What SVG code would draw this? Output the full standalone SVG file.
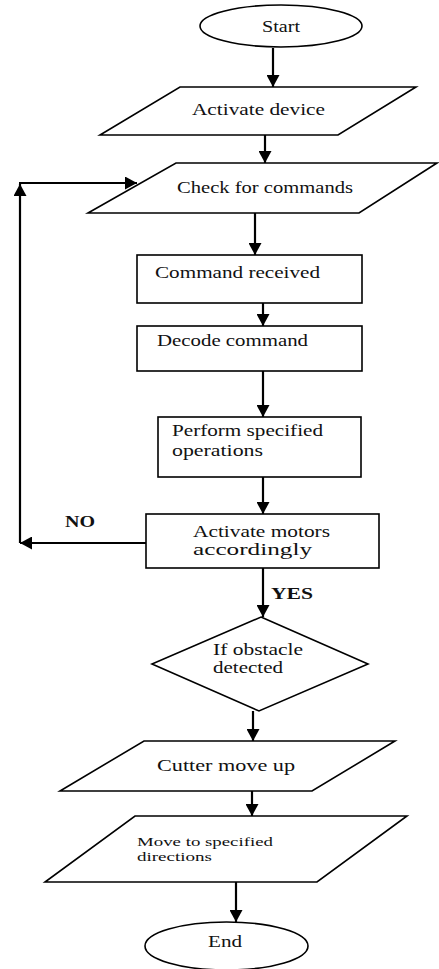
<svg xmlns="http://www.w3.org/2000/svg" width="439" height="969" viewBox="0 0 439 969">
<defs>
<style>
.shape{fill:#fff;stroke:#000;stroke-width:1.6}
.conn{fill:none;stroke:#000;stroke-width:2.2}
text{font-family:"Liberation Serif","Times New Roman",serif;font-size:16px;fill:#111}
.b{font-weight:bold}
.s{font-size:12px}
</style>
<marker id="ah" markerUnits="userSpaceOnUse" markerWidth="13" markerHeight="13" refX="12" refY="6.5" orient="auto">
<path d="M0,0 L12,6.5 L0,13 z" fill="#000"/>
</marker>
</defs>
<rect width="439" height="969" fill="#fff"/>
<g id="connectors">
<line class="conn" x1="273" y1="48" x2="273" y2="87" marker-end="url(#ah)"/>
<line class="conn" x1="265" y1="135" x2="265" y2="163" marker-end="url(#ah)"/>
<line class="conn" x1="255" y1="213" x2="255" y2="255" marker-end="url(#ah)"/>
<line class="conn" x1="263" y1="303" x2="263" y2="326" marker-end="url(#ah)"/>
<line class="conn" x1="263" y1="371" x2="263" y2="417" marker-end="url(#ah)"/>
<line class="conn" x1="263" y1="477" x2="263" y2="514" marker-end="url(#ah)"/>
<line class="conn" x1="263" y1="568" x2="263" y2="617" marker-end="url(#ah)"/>
<line class="conn" x1="253" y1="711" x2="253" y2="741" marker-end="url(#ah)"/>
<line class="conn" x1="252" y1="791" x2="252" y2="816" marker-end="url(#ah)"/>
<line class="conn" x1="236" y1="882" x2="236" y2="922" marker-end="url(#ah)"/>
<line class="conn" x1="146" y1="543" x2="20" y2="543" marker-end="url(#ah)"/>
<line class="conn" x1="20" y1="543" x2="20" y2="184" marker-end="url(#ah)"/>
<line class="conn" x1="19" y1="183" x2="137" y2="183" marker-end="url(#ah)"/>
<text class="b" x="65" y="527" textLength="30" lengthAdjust="spacingAndGlyphs">NO</text>
<text class="b" x="271" y="599" textLength="42" lengthAdjust="spacingAndGlyphs">YES</text>
</g>
<g id="start">
<ellipse class="shape" cx="281" cy="26" rx="81" ry="21"/>
<text x="262" y="32" textLength="38" lengthAdjust="spacingAndGlyphs">Start</text>
</g>
<g id="activate-device">
<polygon class="shape" points="180,87 416,87 338,135 100,135"/>
<text x="192" y="115" textLength="133" lengthAdjust="spacingAndGlyphs">Activate device</text>
</g>
<g id="check-commands">
<polygon class="shape" points="176,163 437,163 359,213 88,213"/>
<text x="177" y="193" textLength="176" lengthAdjust="spacingAndGlyphs">Check for commands</text>
</g>
<g id="command-received">
<rect class="shape" x="137" y="255" width="225" height="48"/>
<text x="155" y="278" textLength="165" lengthAdjust="spacingAndGlyphs">Command received</text>
</g>
<g id="decode-command">
<rect class="shape" x="137" y="326" width="225" height="45"/>
<text x="157" y="346" textLength="151" lengthAdjust="spacingAndGlyphs">Decode command</text>
</g>
<g id="perform-operations">
<rect class="shape" x="158" y="417" width="203" height="60"/>
<text x="172" y="436" textLength="151" lengthAdjust="spacingAndGlyphs">Perform specified</text>
<text x="172" y="456" textLength="91" lengthAdjust="spacingAndGlyphs">operations</text>
</g>
<g id="activate-motors">
<rect class="shape" x="146" y="514" width="233" height="54"/>
<text x="193" y="537" textLength="137" lengthAdjust="spacingAndGlyphs">Activate motors</text>
<text x="193" y="555" textLength="119" lengthAdjust="spacingAndGlyphs">accordingly</text>
</g>
<g id="obstacle-decision">
<polygon class="shape" points="261,617 368,664 259,711 152,664"/>
<text x="213" y="655" textLength="90" lengthAdjust="spacingAndGlyphs">If obstacle</text>
<text x="213" y="673" textLength="70" lengthAdjust="spacingAndGlyphs">detected</text>
</g>
<g id="cutter-move-up">
<polygon class="shape" points="144,741 395,741 312,791 60,791"/>
<text x="157" y="771" textLength="138" lengthAdjust="spacingAndGlyphs">Cutter move up</text>
</g>
<g id="move-directions">
<polygon class="shape" points="135,816 407,816 317,882 45,882"/>
<text class="s" x="137" y="846" textLength="136" lengthAdjust="spacingAndGlyphs">Move to specified</text>
<text class="s" x="137" y="861" textLength="75" lengthAdjust="spacingAndGlyphs">directions</text>
</g>
<g id="end">
<ellipse class="shape" cx="226.5" cy="946" rx="81.5" ry="24"/>
<text x="208" y="947" textLength="34" lengthAdjust="spacingAndGlyphs">End</text>
</g>
</svg>
